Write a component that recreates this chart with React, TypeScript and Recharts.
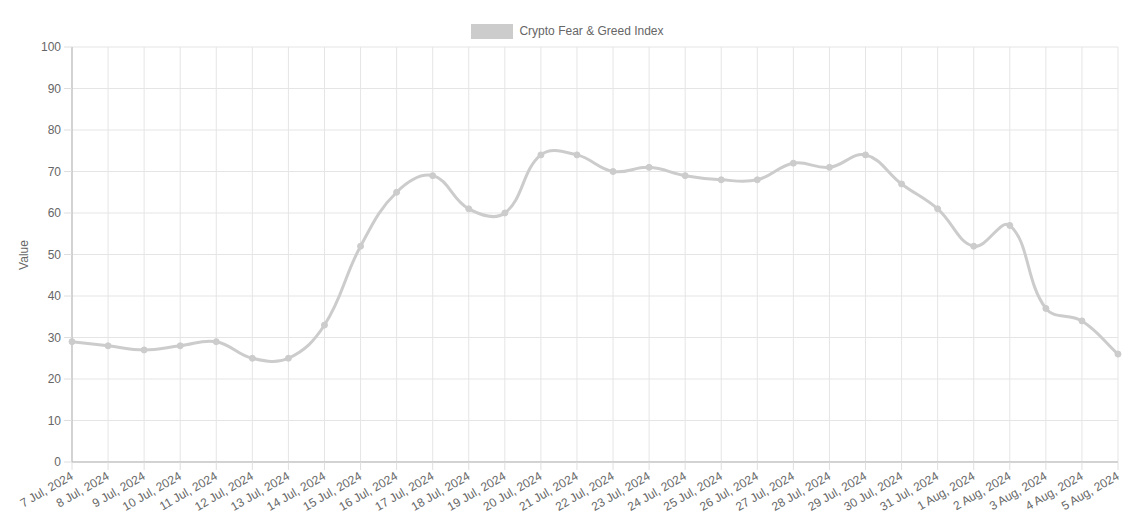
import React from 'react';
import { LineChart, Line, XAxis, YAxis, CartesianGrid, Legend } from 'recharts';

const dates = [
  '7 Jul, 2024', '8 Jul, 2024', '9 Jul, 2024', '10 Jul, 2024', '11 Jul, 2024', '12 Jul, 2024',
  '13 Jul, 2024', '14 Jul, 2024', '15 Jul, 2024', '16 Jul, 2024', '17 Jul, 2024', '18 Jul, 2024',
  '19 Jul, 2024', '20 Jul, 2024', '21 Jul, 2024', '22 Jul, 2024', '23 Jul, 2024', '24 Jul, 2024',
  '25 Jul, 2024', '26 Jul, 2024', '27 Jul, 2024', '28 Jul, 2024', '29 Jul, 2024', '30 Jul, 2024',
  '31 Jul, 2024', '1 Aug, 2024', '2 Aug, 2024', '3 Aug, 2024', '4 Aug, 2024', '5 Aug, 2024',
];
const indexValues = [
  29, 28, 27, 28, 29, 25, 25, 33, 52, 65, 69, 61, 60, 74, 74, 70, 71, 69, 68, 68, 72, 71, 74, 67, 61, 52, 57, 37, 34, 26,
];
const yTicks = [0, 10, 20, 30, 40, 50, 60, 70, 80, 90, 100];
const seriesName = 'Crypto Fear & Greed Index';

const data = dates.map((d, i) => ({ date: d, value: indexValues[i] }));

const FONT = '"Liberation Sans", Arial, Helvetica, sans-serif';
const LINE_COLOR = '#cccccc';

// Chart.js-like cubic spline (tension 0.4)
function chartjsCurve(context: any) {
  let pts: number[][] = [];
  const tension = 0.4;
  return {
    areaStart() {},
    areaEnd() {},
    lineStart() { pts = []; },
    point(x: number, y: number) { pts.push([+x, +y]); },
    lineEnd() {
      const n = pts.length;
      if (!n) return;
      const cps: { p: number[]; n: number[] }[] = [];
      for (let i = 0; i < n; i++) {
        const prev = pts[Math.max(0, i - 1)];
        const cur = pts[i];
        const next = pts[Math.min(n - 1, i + 1)];
        const d01 = Math.hypot(cur[0] - prev[0], cur[1] - prev[1]);
        const d12 = Math.hypot(next[0] - cur[0], next[1] - cur[1]);
        let s01 = d01 / (d01 + d12);
        let s12 = d12 / (d01 + d12);
        if (!isFinite(s01)) s01 = 0;
        if (!isFinite(s12)) s12 = 0;
        const fa = tension * s01;
        const fb = tension * s12;
        cps.push({
          p: [cur[0] - fa * (next[0] - prev[0]), cur[1] - fa * (next[1] - prev[1])],
          n: [cur[0] + fb * (next[0] - prev[0]), cur[1] + fb * (next[1] - prev[1])],
        });
      }
      context.moveTo(pts[0][0], pts[0][1]);
      for (let i = 1; i < n; i++) {
        context.bezierCurveTo(cps[i - 1].n[0], cps[i - 1].n[1], cps[i].p[0], cps[i].p[1], pts[i][0], pts[i][1]);
      }
    },
  };
}

const XTick = (props: any) => {
  const { x, y, payload } = props;
  return (
    <g transform={`translate(${x},${y + 3})`}>
      <text
        x={0}
        y={0}
        dy={4}
        textAnchor="end"
        transform="rotate(-30)"
        fill="#666"
        fontSize={12}
        fontFamily={FONT}
      >
        {payload.value}
      </text>
    </g>
  );
};

const LegendContent = () => (
  <div style={{ height: 14, display: 'flex', justifyContent: 'center', alignItems: 'center', fontFamily: FONT, fontSize: 12, color: '#666' }}>
    <span style={{ display: 'inline-block', width: 42, height: 15, background: LINE_COLOR, marginRight: 6 }} />
    <span>{seriesName}</span>
  </div>
);

export default function App() {
  return (
    <div style={{ position: 'absolute', left: 0, top: 0, width: 1135, height: 524, background: '#fff' }}>
      <LineChart width={1135} height={524} data={data} margin={{ top: 33, right: 17, bottom: 0, left: 0 }}>
        <CartesianGrid stroke="#e5e5e5" strokeWidth={1} />
        <Legend verticalAlign="top" align="center" content={<LegendContent />} wrapperStyle={{ top: 24, left: 0, width: 1135, height: 14 }} />
        <XAxis
          dataKey="date"
          interval={0}
          height={62}
          tick={<XTick />}
          tickSize={8}
          tickMargin={2}
          axisLine={{ stroke: '#b3b3b3' }}
          tickLine={{ stroke: '#dedede' }}
        />
        <YAxis
          domain={[0, 100]}
          ticks={yTicks}
          width={72}
          tickSize={8}
          tickMargin={3}
          interval={0}
          tick={{ fill: '#666', fontSize: 12, fontFamily: FONT }}
          axisLine={{ stroke: '#b3b3b3' }}
          tickLine={{ stroke: '#dedede' }}
          label={{
            content: () => (
              <text x={28} y={255} transform="rotate(-90, 28, 255)" textAnchor="middle" fill="#666" fontSize={12} fontFamily={FONT}>
                Value
              </text>
            ),
          }}
        />
        <Line
          dataKey="value"
          name={seriesName}
          type={chartjsCurve as any}
          stroke={LINE_COLOR}
          strokeWidth={3}
          dot={{ r: 3, fill: LINE_COLOR, stroke: LINE_COLOR, strokeWidth: 1 }}
          activeDot={false}
          isAnimationActive={false}
        />
      </LineChart>
    </div>
  );
}
